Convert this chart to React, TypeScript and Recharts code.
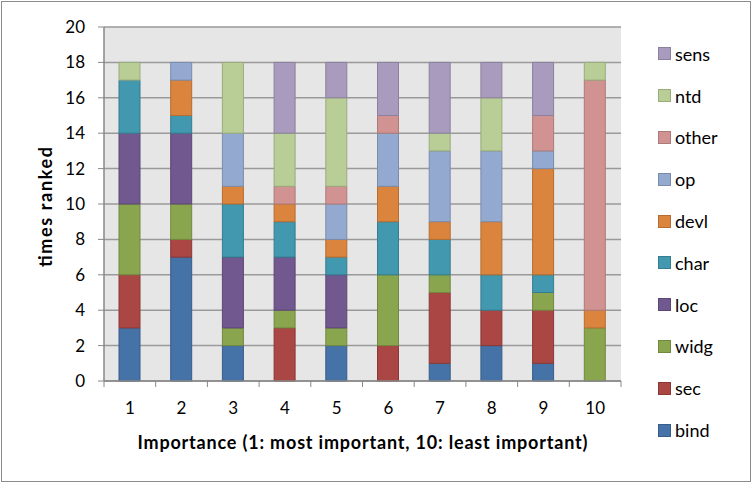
import { BarChart, Bar, XAxis, YAxis, CartesianGrid } from "recharts"

const ranks = ["1", "2", "3", "4", "5", "6", "7", "8", "9", "10"]

const bind = [3, 7, 2, 0, 2, 0, 1, 2, 1, 0]
const sec = [3, 1, 0, 3, 0, 2, 4, 2, 3, 0]
const widg = [4, 2, 1, 1, 1, 4, 1, 0, 1, 3]
const loc = [4, 4, 4, 3, 3, 0, 0, 0, 0, 0]
const char = [3, 1, 3, 2, 1, 3, 2, 2, 1, 0]
const devl = [0, 2, 1, 1, 1, 2, 1, 3, 6, 1]
const op = [0, 1, 3, 0, 2, 3, 4, 4, 1, 0]
const other = [0, 0, 0, 1, 1, 1, 0, 0, 2, 13]
const ntd = [1, 0, 4, 3, 5, 0, 1, 3, 0, 1]
const sens = [0, 0, 0, 4, 2, 3, 4, 2, 3, 0]

const yTicks = [0, 2, 4, 6, 8, 10, 12, 14, 16, 18, 20]

const series = [
  { key: "bind", values: bind, fill: "#4572A7", stroke: "#385d8a" },
  { key: "sec", values: sec, fill: "#AA4643", stroke: "#8c3836" },
  { key: "widg", values: widg, fill: "#89A54E", stroke: "#71893f" },
  { key: "loc", values: loc, fill: "#71588F", stroke: "#5c4776" },
  { key: "char", values: char, fill: "#4198AF", stroke: "#357d91" },
  { key: "devl", values: devl, fill: "#DB843D", stroke: "#b66d31" },
  { key: "op", values: op, fill: "#93A9CF", stroke: "#7a8cac" },
  { key: "other", values: other, fill: "#D19392", stroke: "#ae7a79" },
  { key: "ntd", values: ntd, fill: "#B9CD96", stroke: "#9aab7c" },
  { key: "sens", values: sens, fill: "#A99BBD", stroke: "#8c819d" },
]

const data = ranks.map((r, i) => {
  const row: Record<string, string | number> = { rank: r }
  series.forEach((s) => (row[s.key] = s.values[i]))
  return row
})

const FONT = "Lato, 'Open Sans', sans-serif"
const W = 753
const H = 484
const PLOT_LEFT = 104
const PLOT_RIGHT = 621
const BAND = (PLOT_RIGHT - PLOT_LEFT) / ranks.length

function XTick(props: any) {
  const { x, y, payload, index } = props
  const left = x - BAND / 2
  return (
    <g>
      <line x1={left} y1={y - 8} x2={left} y2={y - 2} stroke="#888" strokeWidth={1} />
      {index === ranks.length - 1 && (
        <line x1={left + BAND} y1={y - 8} x2={left + BAND} y2={y - 2} stroke="#888" strokeWidth={1} />
      )}
      <text x={x} y={y + 25} textAnchor="middle" fontSize={17} fill="#000" fontFamily={FONT}>
        {payload.value}
      </text>
    </g>
  )
}

function LegendBox() {
  const items = [...series].reverse()
  return (
    <div
      style={{
        position: "absolute",
        left: 658,
        top: 33,
        width: 92,
        fontFamily: FONT,
        fontSize: 18,
        color: "#000",
      }}
    >
      {items.map((s) => (
        <div key={s.key} style={{ display: "flex", alignItems: "center", height: 41.8 }}>
          <span
            style={{
              display: "inline-block",
              width: 11,
              height: 11,
              background: s.fill,
              border: `1px solid ${s.stroke}`,
              marginRight: 4,
            }}
          />
          <span>{s.key}</span>
        </div>
      ))}
    </div>
  )
}

export default function App() {
  return (
    <div style={{ position: "absolute", left: 0, top: 0, width: W, height: H, background: "#fff" }}>
      <div
        style={{
          position: "absolute",
          left: 1,
          top: 1,
          width: 748,
          height: 479,
          border: "1.5px solid #8c8c8c",
          pointerEvents: "none",
        }}
      />
      <BarChart
        width={W}
        height={H}
        data={data}
        margin={{ top: 27, right: W - PLOT_RIGHT, left: 0, bottom: 33 }}
        barSize={21}
      >
        <CartesianGrid vertical={false} stroke="#9a9a9a" strokeWidth={1.5} fill="#e6e6e6" />
        <XAxis
          dataKey="rank"
          height={70}
          axisLine={{ stroke: "#888", strokeWidth: 1.5 }}
          tickLine={false}
          tick={<XTick />}
          interval={0}
          label={(p: any) => {
            const vb = p.viewBox
            return (
              <text
                x={vb.x + vb.width / 2}
                y={vb.y + 68}
                textAnchor="middle"
                fontSize={18}
                fontWeight="bold"
                fontFamily={FONT}
                fill="#000"
                textLength={450}
                lengthAdjust="spacing"
              >
                Importance (1: most important, 10: least important)
              </text>
            )
          }}
        />
        <YAxis
          width={PLOT_LEFT}
          domain={[0, 20]}
          ticks={yTicks}
          interval={0}
          axisLine={{ stroke: "#888", strokeWidth: 1.5 }}
          tickLine={{ stroke: "#888" }}
          tickSize={6}
          tickMargin={13}
          tick={{ fontSize: 17, fill: "#000", fontFamily: FONT }}
          label={(p: any) => {
            const vb = p.viewBox
            const cx = 45
            const cy = 207
            return (
              <text
                x={cx}
                y={cy}
                transform={`rotate(-90 ${cx} ${cy})`}
                textAnchor="middle"
                dominantBaseline="central"
                fontSize={18}
                fontWeight="bold"
                fontFamily={FONT}
                fill="#000"
                textLength={120}
                lengthAdjust="spacing"
              >
                times ranked
              </text>
            )
          }}
        />
        {series.map((s) => (
          <Bar
            key={s.key}
            dataKey={s.key}
            stackId="a"
            fill={s.fill}
            stroke={s.stroke}
            strokeWidth={1}
            isAnimationActive={false}
          />
        ))}
      </BarChart>
      <LegendBox />
    </div>
  )
}
